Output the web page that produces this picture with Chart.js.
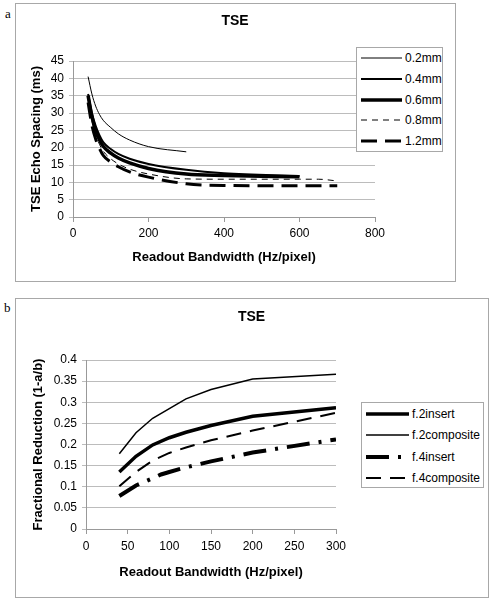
<!DOCTYPE html>
<html>
<head>
<meta charset="utf-8">
<script src="https://cdn.jsdelivr.net/npm/chart.js@4.4.1/dist/chart.umd.min.js"></script>
<style>
  body { margin: 0; background: #fff; width: 491px; height: 600px; position: relative; overflow: hidden;
         font-family: "Liberation Sans", Arial, sans-serif; }
  .frame { position: absolute; border: 1px solid #a8a8a8; box-sizing: border-box; }
  .box { position: absolute; }
  .tag { position: absolute; font-family: "Liberation Serif", "Times New Roman", serif; font-size: 13px; line-height: 13px; }
  .legend { position: absolute; border: 1px solid #a8a8a8; background: #fff; box-sizing: border-box; }
  .legend .row { position: absolute; left: 0; height: 16px; display: flex; align-items: center;
                 font-size: 12px; color: #000; white-space: nowrap; }
  .legend svg { display: block; }
</style>
</head>
<body>

<!-- панель a -->
<div class="frame" style="left:15px; top:3px; width:441px; height:279px;"></div>
<div class="tag" style="left:5px; top:7px;">a</div>
<div class="box" style="left:15px; top:3px; width:440px; height:278px;"><canvas id="chart-a"></canvas></div>
<div class="legend" id="legend-a" style="left:356px; top:47px; width:87px; height:105px;"></div>

<!-- панель b -->
<div class="frame" style="left:15px; top:298px; width:474px; height:300px;"></div>
<div class="tag" style="left:4px; top:301px;">b</div>
<div class="box" style="left:15px; top:298px; width:473px; height:299px;"><canvas id="chart-b"></canvas></div>
<div class="legend" id="legend-b" style="left:361px; top:402px; width:123px; height:86px;"></div>

<script>
// --- данные: панель a ---
const bwA = [40, 50, 60, 70, 80, 100, 120, 150, 200, 300, 400, 600, 650, 700];
const es02 = [40.5, 35.5, 32, 29.6, 27.9, 25.8, 24.0, 22.2, 20.3, 18.8, null, null, null, null];
const es04 = [35.5, 30, 26.3, 23.6, 21.6, 19.6, 18.2, 16.8, 15.3, 13.6, 12.6, 11.8, null, null];
const es06 = [35, 29, 25, 22.3, 20.4, 18.4, 17.0, 15.6, 14.0, 12.4, 12.0, 11.6, null, null];
const es08 = [34, 27.8, 23.8, 21.0, 19.0, 16.8, 15.3, 13.8, 12.4, 11.0, 10.9, 10.9, 10.9, 10.4];
const es12 = [33, 26.5, 22.5, 19.8, 17.8, 15.8, 14.5, 13.0, 11.5, 9.6, 9.1, 9.0, 9.0, 9.0];
const xTicksA = [0, 200, 400, 600, 800];
const yTicksA = [0, 5, 10, 15, 20, 25, 30, 35, 40, 45];

// --- данные: панель b ---
const bwB = [40, 60, 80, 90, 100, 120, 150, 200, 300];
const f2insert = [0.135, 0.172, 0.199, null, 0.216, 0.229, 0.245, 0.267, 0.287];
const f2composite = [0.178, 0.228, 0.262, null, 0.285, 0.308, 0.330, 0.355, 0.366];
const f4insert = [0.078, 0.103, 0.120, 0.129, 0.135, 0.146, 0.160, 0.181, 0.212];
const f4composite = [0.101, 0.135, 0.162, null, 0.180, 0.193, 0.210, 0.233, 0.275];
const xTicksB = [0, 50, 100, 150, 200, 250, 300];
const yTicksB = [0, 0.05, 0.1, 0.15, 0.2, 0.25, 0.3, 0.35, 0.4];

Chart.defaults.font.family = '"Liberation Sans", Arial, sans-serif';
Chart.defaults.color = '#000';

// пары x/y без пропусков
function pts(xs, ys) {
  return xs.map((x, i) => ({ x: x, y: ys[i] })).filter(p => p.y !== null);
}

function line(label, xs, ys, width, dash) {
  return {
    label: label,
    data: pts(xs, ys),
    borderColor: '#000',
    backgroundColor: '#000',
    borderWidth: width,
    borderDash: dash,
    pointRadius: 0,
    fill: false,
  };
}

function axes(o) {
  const gray = '#bcbcbc';
  return {
    x: {
      type: 'linear',
      min: o.xTicks[0], max: o.xTicks[o.xTicks.length - 1],
      afterBuildTicks: s => { s.ticks = o.xTicks.map(v => ({ value: v })); },
      afterFit: s => { s.height = o.xHeight; },
      grid: { drawOnChartArea: false, drawTicks: true, tickLength: 5, color: '#999' },
      border: { color: '#999' },
      ticks: { font: { size: 12 }, padding: o.xPad, maxRotation: 0, autoSkip: false },
      title: { display: true, text: 'Readout Bandwidth (Hz/pixel)', font: { size: 13, weight: 'bold' },
               padding: { top: 0, bottom: o.xTitlePad } },
    },
    y: {
      min: o.yTicks[0], max: o.yTicks[o.yTicks.length - 1],
      afterBuildTicks: s => { s.ticks = o.yTicks.map(v => ({ value: v })); },
      afterFit: s => { s.width = o.yWidth; },
      grid: { color: gray, tickLength: 4 },
      border: { color: '#999' },
      ticks: { font: { size: 12 }, padding: 5, autoSkip: false, callback: v => String(v) },
      title: { display: true, text: o.yTitle, font: { size: 13, weight: 'bold' },
               padding: { top: o.yTitlePad, bottom: 0 } },
    },
    // пустая правая ось: место под легенду, заголовок остаётся по центру рамки
    r: {
      position: 'right',
      afterFit: s => { s.width = o.rightW; },
      grid: { display: false },
      border: { display: false },
      ticks: { display: false },
    },
  };
}

function renderLegend(id, datasets, sampleW, textX, firstY, stepY) {
  const box = document.getElementById(id);
  datasets.forEach((d, i) => {
    const row = document.createElement('div');
    row.className = 'row';
    row.style.top = (firstY + i * stepY - 8) + 'px';
    const dash = d.borderDash && d.borderDash.length ? ` stroke-dasharray="${d.borderDash.join(' ')}"` : '';
    row.innerHTML = `
      <svg width="${textX}" height="16">
        <line x1="4" y1="8" x2="${4 + sampleW}" y2="8" stroke="#000" stroke-width="${d.borderWidth}"${dash}/>
      </svg>
      <span>${d.label}</span>`;
    box.appendChild(row);
  });
}

// Панель a
const dsA = [
  line('0.2mm', bwA, es02, 1, []),
  line('0.4mm', bwA, es04, 2, []),
  line('0.6mm', bwA, es06, 3.5, []),
  line('0.8mm', bwA, es08, 1, [6, 5]),
  line('1.2mm', bwA, es12, 3, [16, 8]),
];
new Chart(document.getElementById('chart-a'), {
  type: 'line',
  data: { datasets: dsA },
  options: {
    responsive: true,
    maintainAspectRatio: false,
    animation: false,
    cubicInterpolationMode: 'monotone',
    layout: { padding: 0 },
    plugins: {
      legend: { display: false },
      tooltip: { enabled: false },
      title: { display: true, text: 'TSE', font: { size: 14, weight: 'bold' }, color: '#000',
               padding: { top: 9.6, bottom: 31.6 } },
    },
    scales: axes({ xTicks: xTicksA, yTicks: yTicksA, xHeight: 64, yWidth: 58, rightW: 80, xPad: 4,
                   xTitlePad: 16, yTitlePad: 14, yTitle: 'TSE Echo Spacing (ms)' }),
  }
});
renderLegend('legend-a', dsA, 41, 48, 10, 20.75);

// Панель b
const dsB = [
  line('f.2insert', bwB, f2insert, 3.5, []),
  line('f.2composite', bwB, f2composite, 1.5, []),
  line('f.4insert', bwB, f4insert, 4, [23, 9, 3, 9]),
  line('f.4composite', bwB, f4composite, 2, [15, 9]),
];
new Chart(document.getElementById('chart-b'), {
  type: 'line',
  data: { datasets: dsB },
  options: {
    responsive: true,
    maintainAspectRatio: false,
    animation: false,
    layout: { padding: 0 },
    plugins: {
      legend: { display: false },
      tooltip: { enabled: false },
      title: { display: true, text: 'TSE', font: { size: 14, weight: 'bold' }, color: '#000',
               padding: { top: 10.3, bottom: 34.9 } },
    },
    scales: axes({ xTicks: xTicksB, yTicks: yTicksB, xHeight: 68, yWidth: 71, rightW: 152, xPad: 5,
                   xTitlePad: 17, yTitlePad: 16, yTitle: 'Fractional Reduction (1-a/b)' }),
  }
});
renderLegend('legend-b', dsB, 43, 50, 10.7, 21.4);
</script>
</body>
</html>
